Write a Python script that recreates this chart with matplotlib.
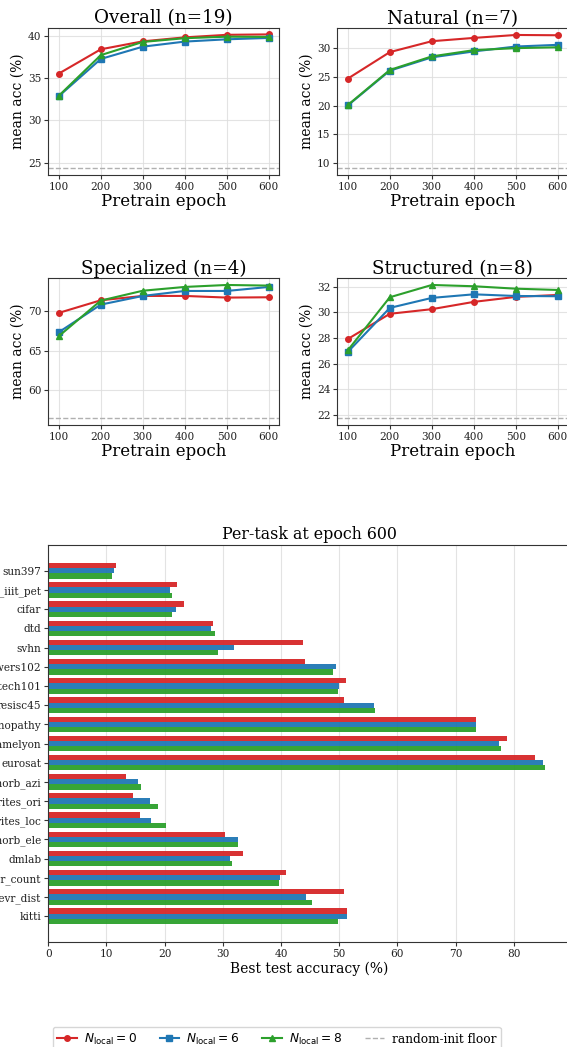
import numpy as np
import matplotlib
matplotlib.use("Agg")
import matplotlib.pyplot as plt
from matplotlib.lines import Line2D
from matplotlib.ticker import MultipleLocator

# ---------------- data ----------------
epochs = [100, 200, 300, 400, 500, 600]

overall_n0 = [35.52, 38.39, 39.33, 39.80, 40.10, 40.15]
overall_n6 = [32.85, 37.25, 38.70, 39.30, 39.57, 39.73]
overall_n8 = [32.90, 37.70, 39.26, 39.70, 39.88, 39.85]
overall_floor = 24.33

natural_n0 = [24.67, 29.26, 31.15, 31.72, 32.23, 32.18]
natural_n6 = [20.03, 26.05, 28.35, 29.38, 30.23, 30.52]
natural_n8 = [20.10, 26.17, 28.52, 29.60, 29.95, 30.10]
natural_floor = 9.14

specialized_n0 = [69.79, 71.39, 71.94, 71.94, 71.73, 71.77]
specialized_n6 = [67.34, 70.84, 71.94, 72.57, 72.57, 73.08]
specialized_n8 = [66.84, 71.35, 72.60, 73.08, 73.33, 73.25]
specialized_floor = 56.42

structured_n0 = [27.91, 29.88, 30.24, 30.81, 31.20, 31.35]
structured_n6 = [26.90, 30.34, 31.12, 31.40, 31.27, 31.25]
structured_n8 = [27.03, 31.17, 32.13, 32.03, 31.84, 31.74]
structured_floor = 21.72

tasks = ['sun397', 'oxford_iiit_pet', 'cifar', 'dtd', 'svhn', 'oxford_flowers102',
         'caltech101', 'resisc45', 'diabetic_retinopathy', 'patch_camelyon', 'eurosat',
         'smallnorb_azi', 'dsprites_ori', 'dsprites_loc', 'smallnorb_ele', 'dmlab',
         'clevr_count', 'clevr_dist', 'kitti']
task_n0 = [11.7, 22.2, 23.4, 28.3, 43.7, 44.1, 51.1, 50.9, 73.5, 78.8, 83.7,
           13.4, 14.5, 15.8, 30.3, 33.5, 40.8, 50.9, 51.3]
task_n6 = [11.3, 20.9, 21.9, 27.9, 32.0, 49.5, 49.9, 55.9, 73.5, 77.5, 85.1,
           15.4, 17.5, 17.7, 32.6, 31.3, 39.8, 44.3, 51.3]
task_n8 = [11.0, 21.2, 21.3, 28.7, 29.2, 48.9, 49.8, 56.2, 73.5, 77.8, 85.4,
           15.9, 18.9, 20.2, 32.6, 31.6, 39.6, 45.3, 49.8]

series_labels = [r'$N_{\mathrm{local}}=0$', r'$N_{\mathrm{local}}=6$', r'$N_{\mathrm{local}}=8$']
floor_label = 'random-init floor'

# ---------------- style ----------------
plt.rcParams['font.family'] = ['DejaVu Serif']
plt.rcParams['mathtext.fontset'] = 'dejavusans'
plt.rcParams['axes.edgecolor'] = '#333333'
plt.rcParams['xtick.color'] = '#333333'
plt.rcParams['ytick.color'] = '#333333'
plt.rcParams['xtick.labelcolor'] = '#222222'
plt.rcParams['ytick.labelcolor'] = '#222222'

colors = ['#d62728', '#1f77b4', '#2ca02c']
markers = ['o', 's', '^']
floor_color = '#b0b0b0'

W, H = 567, 1047
fig = plt.figure(figsize=(W / 100, H / 100), dpi=100)


def ax_at(x0, y0, x1, y1):
    return fig.add_axes([x0 / W, 1 - y1 / H, (x1 - x0) / W, (y1 - y0) / H])


panels = [
    ('Overall (n=19)', [overall_n0, overall_n6, overall_n8], overall_floor, (48.3, 27.7, 279.3, 175.0), 5),
    ('Natural (n=7)', [natural_n0, natural_n6, natural_n8], natural_floor, (337.3, 28.3, 568.3, 175.0), 5),
    ('Specialized (n=4)', [specialized_n0, specialized_n6, specialized_n8], specialized_floor, (48.3, 278.3, 279.3, 425.0), 5),
    ('Structured (n=8)', [structured_n0, structured_n6, structured_n8], structured_floor, (337.3, 278.3, 568.3, 425.0), 2),
]

for title, series, floor, box, step in panels:
    ax = ax_at(*box)
    for vals, c, m in zip(series, colors, markers):
        ax.plot(epochs, vals, color=c, marker=m, markersize=4, linewidth=1.5)
    ax.axhline(floor, color=floor_color, linestyle='--', linewidth=1.0)
    ax.set_title(title, fontsize=13.2, pad=3)
    ax.set_xlabel('Pretrain epoch', fontsize=12, labelpad=1)
    ax.set_ylabel('mean acc (%)', fontsize=10, labelpad=2)
    ax.set_xticks(epochs)
    ax.yaxis.set_major_locator(MultipleLocator(step))
    ax.tick_params(labelsize=7.6, length=3, pad=2)
    ax.grid(True, color='#dddddd', linewidth=0.8, alpha=0.8)
    ax.set_axisbelow(True)

# ---------------- bar chart ----------------
axb = ax_at(48.3, 545.0, 570.0, 942.0)
y = np.arange(len(tasks))
h = 0.27
for i, (vals, c) in enumerate(zip([task_n0, task_n6, task_n8], colors)):
    axb.barh(y + (i - 1) * h, vals, height=h, color=c, alpha=0.95, edgecolor='none')
axb.set_yticks(y)
axb.set_yticklabels(tasks)
axb.invert_yaxis()
axb.set_title('Per-task at epoch 600', fontsize=11.4, pad=4)
axb.set_xlabel('Best test accuracy (%)', fontsize=10, labelpad=2)
axb.tick_params(labelsize=7.6, length=3, pad=2)
axb.xaxis.grid(True, color='#dddddd', linewidth=0.8, alpha=0.8)
axb.set_axisbelow(True)

# ---------------- legend ----------------
handles = [Line2D([], [], color=c, marker=m, markersize=4, linewidth=1.5) for c, m in zip(colors, markers)]
handles.append(Line2D([], [], color=floor_color, linestyle='--', linewidth=1.0))
fig.legend(handles, series_labels + [floor_label], loc='upper center',
           bbox_to_anchor=(276.7 / W, 1 - 1026.7 / H), ncol=4, fontsize=8.7,
           frameon=True, edgecolor='#cccccc', handlelength=1.6, handletextpad=0.6,
           columnspacing=1.9, borderaxespad=0)

fig.savefig('out.png', dpi=100)
